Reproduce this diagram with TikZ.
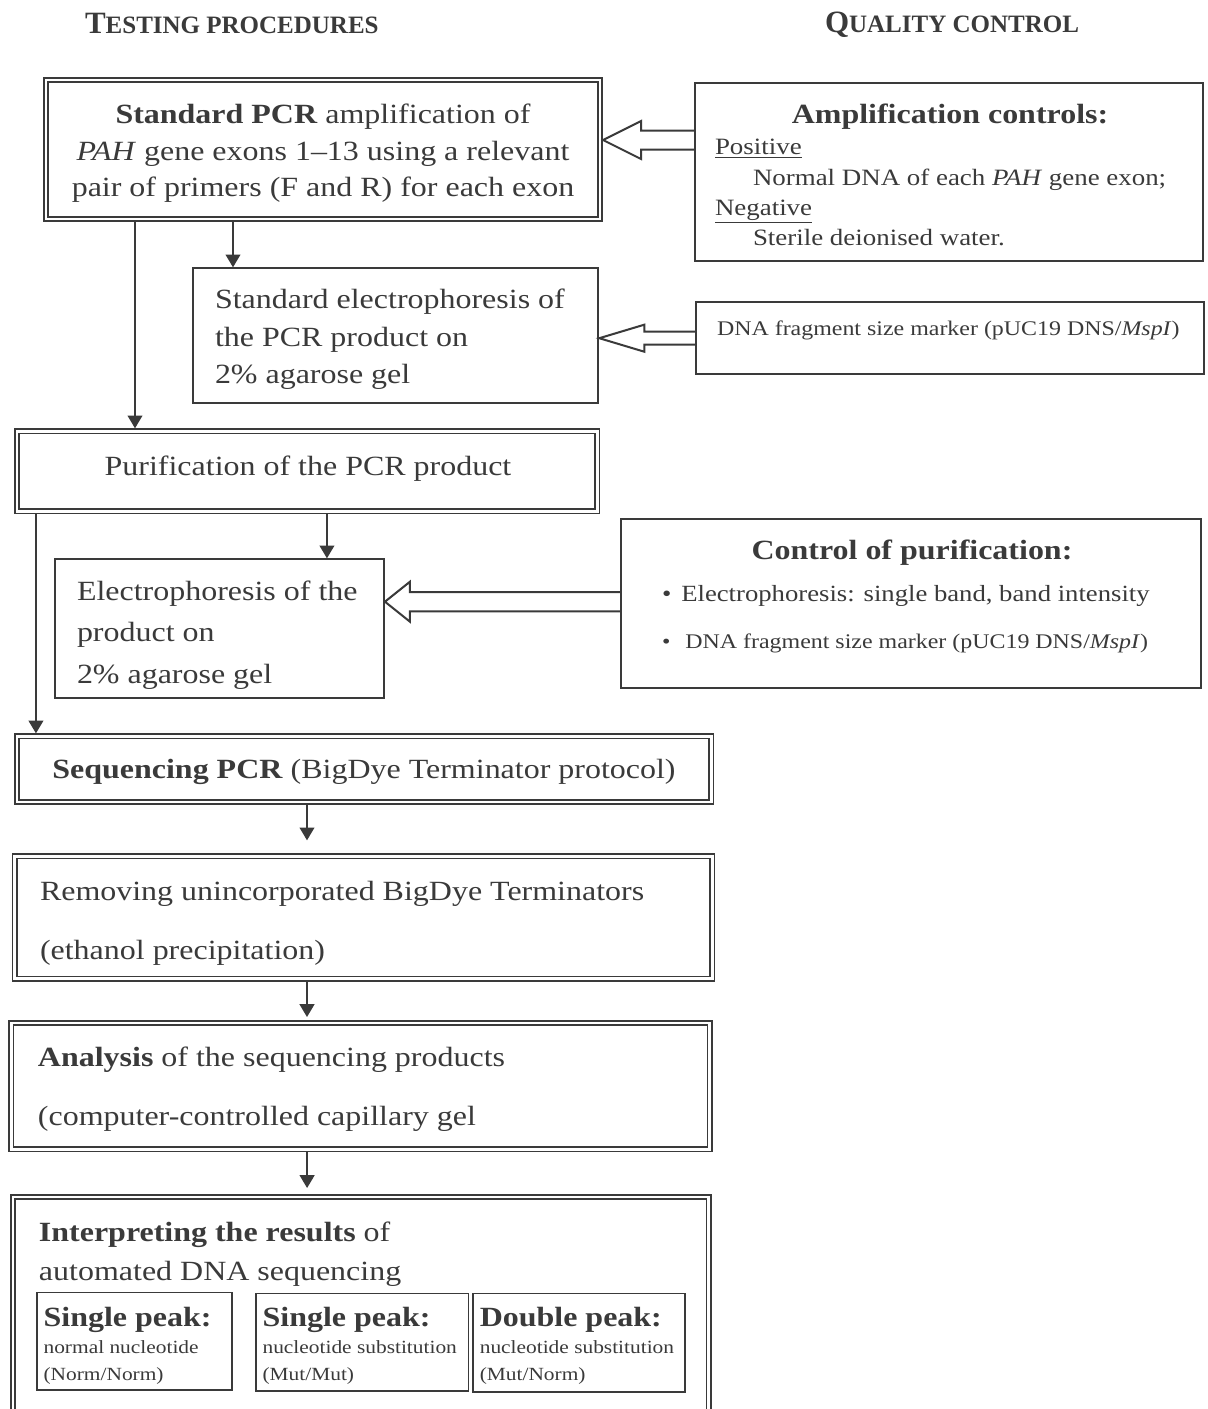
\documentclass[tikz,border=0pt]{standalone}
\usepackage{fontspec}
\setmainfont{Liberation Serif}[FakeStretch=1.15]
\newfontfamily\hdfont{Liberation Serif}
\usetikzlibrary{arrows.meta,calc}
\definecolor{ink}{RGB}{58,58,58}
\newcommand\setfs[1]{\fontsize{#1}{#1}\selectfont}
\newcommand\blockarrow[5]{%
  \draw[hollow] let \p1=(#1), \p2=(#2) in
    ({\x1},{\y1+#3}) -- ({\x2+#5},{\y1+#3}) -- ({\x2+#5},{\y2+#4}) -- (\x2,\y2)
    -- ({\x2+#5},{\y2-#4}) -- ({\x2+#5},{\y1-#3}) -- ({\x1},{\y1-#3});}
\begin{document}
\begin{tikzpicture}[x=0.5pt,y=-0.5pt,
  dbox/.style={draw=ink, line width=0.85pt, double=white, double distance=1.3pt, outer sep=1.5pt, inner sep=0pt, rectangle},
  sbox/.style={draw=ink, line width=1pt, inner sep=0pt, rectangle},
  subbox/.style={draw=ink, line width=0.8pt, inner sep=0pt, rectangle},
  txt/.style={inner sep=0pt, outer sep=0pt, text=ink, font={\setfs{13.9}}},
  btxt/.style={txt, font={\setfs{13.9}\bfseries}},
  lst/.style={txt, font={\setfs{11.7}}},
  sml/.style={txt, font={\setfs{9.3}}},
  arr/.style={draw=ink, line width=0.8pt, -{Triangle[width=7.4pt,length=6.4pt]}},
  hollow/.style={draw=ink, line width=1pt, line join=miter}]
\useasboundingbox (0,0) rectangle (1207,1409);
\fill[white] (0,0) rectangle (1207,1409);
\clip (0,0) rectangle (1207,1409);

% headers
\node[txt, anchor=base west] (hd1) at (85,33) {\hdfont\bfseries\setfs{15.5}T\setfs{12.5}ESTING PROCEDURES};
\node[txt, anchor=base west] (hd2) at (825,32) {\hdfont\bfseries\setfs{15.5}Q\setfs{12.5}UALITY CONTROL};

% boxes
\node[dbox, minimum width=277pt, minimum height=69.5pt] (box1) at (323,149.5) {};
\node[sbox, minimum width=202.75pt, minimum height=67.5pt] (elec1) at (395.5,335.8) {};
\node[sbox, minimum width=254pt, minimum height=88.7pt] (ampc) at (949,172) {};
\node[sbox, minimum width=254pt, minimum height=35.85pt] (dnam) at (950,338.2) {};
\node[dbox, minimum width=290.25pt, minimum height=40pt] (purif) at (307.2,471.3) {};
\node[sbox, minimum width=164.25pt, minimum height=69.2pt] (elec2) at (219.7,628.5) {};
\node[sbox, minimum width=290pt, minimum height=84.2pt] (cpur) at (911,603.5) {};
\node[dbox, minimum width=347.2pt, minimum height=32.85pt] (seq) at (364.2,769.2) {};
\node[dbox, minimum width=348.9pt, minimum height=61.2pt] (remv) at (363.4,917.5) {};
\node[dbox, minimum width=349.1pt, minimum height=63.2pt] (anal) at (360.5,1086.2) {};
\node[dbox, minimum width=347.8pt, minimum height=116.5pt] (interp) at (360.9,1313.5) {};
\node[subbox, minimum width=97.6pt, minimum height=48.85pt] (sub1) at (134.3,1341.2) {};
\node[subbox, minimum width=106.3pt, minimum height=48.7pt] (sub2) at (362,1342) {};
\node[subbox, minimum width=106pt, minimum height=49.2pt] (sub3) at (579,1342.5) {};

% texts
\node[txt, anchor=base] (t1a) at (323,123.3) {\textbf{Standard PCR} amplification of};
\node[txt, anchor=base] (t1b) at (323,160) {\textit{PAH} gene exons 1–13 using a relevant};
\node[txt, anchor=base] (t1c) at (323,196.7) {pair of primers (F and R) for each exon};

\node[txt, anchor=base west] (t2a) at (215,308.3) {Standard electrophoresis of};
\node[txt, anchor=base west] (t2b) at (215,346) {the PCR product on};
\node[txt, anchor=base west] (t2c) at (215,383.3) {2\% agarose gel};

\node[btxt, anchor=base] (t3a) at (950,123.3) {Amplification controls:};
\node[lst, anchor=base west] (t3b) at (715,154) {\underline{Positive}};
\node[lst, anchor=base west] (t3c) at (753,185) {Normal DNA of each \textit{PAH} gene exon;};
\node[lst, anchor=base west] (t3d) at (715,215) {\underline{Negative}};
\node[lst, anchor=base west] (t3e) at (753,245) {Sterile deionised water.};

\node[txt, font={\setfs{10.4}}, anchor=base west] (t4) at (717,335) {DNA fragment size marker (pUC19 DNS/\textit{MspI})};

\node[txt, anchor=base] (t5) at (308,475) {Purification of the PCR product};

\node[txt, anchor=base west] (t6a) at (77,600) {Electrophoresis of the};
\node[txt, anchor=base west] (t6b) at (77,641.7) {product on};
\node[txt, anchor=base west] (t6c) at (77,683.3) {2\% agarose gel};

\node[btxt, anchor=base] (t7a) at (912,559.3) {Control of purification:};
\node[txt, font={\setfs{11.6}}, anchor=base west] (t7b) at (662,601.7) {\textbullet\hspace{5pt}Electrophoresis: single band, band intensity};
\node[txt, font={\setfs{10.4}}, anchor=base west] (t7c) at (662,648.3) {\textbullet\hspace{7.5pt}DNA fragment size marker (pUC19 DNS/\textit{MspI})};

\node[txt, anchor=base] (t8) at (364,778.3) {\textbf{Sequencing PCR} (BigDye Terminator protocol)};

\node[txt, anchor=base west] (t9a) at (40,900) {Removing unincorporated BigDye Terminators};
\node[txt, anchor=base west] (t9b) at (40,959.3) {(ethanol precipitation)};

\node[txt, anchor=base west] (t10a) at (38,1066.7) {\textbf{Analysis} of the sequencing products};
\node[txt, anchor=base west] (t10b) at (38,1125) {(computer-controlled capillary gel};

\node[txt, anchor=base west] (t11a) at (39,1241.7) {\textbf{Interpreting the results} of};
\node[txt, anchor=base west] (t11b) at (39,1280) {automated DNA sequencing};

\node[btxt, anchor=base west] (t12a) at (43.6,1326.7) {Single peak:};
\node[sml, anchor=base west] (t12b) at (43.6,1353.3) {normal nucleotide};
\node[sml, anchor=base west] (t12c) at (43.6,1380) {(Norm/Norm)};
\node[btxt, anchor=base west] (t13a) at (262.6,1326.7) {Single peak:};
\node[sml, anchor=base west] (t13b) at (262.6,1353.3) {nucleotide substitution};
\node[sml, anchor=base west] (t13c) at (262.6,1380) {(Mut/Mut)};
\node[btxt, anchor=base west] (t14a) at (479.8,1326.7) {Double peak:};
\node[sml, anchor=base west] (t14b) at (479.8,1353.3) {nucleotide substitution};
\node[sml, anchor=base west] (t14c) at (479.8,1380) {(Mut/Norm)};

% thin arrows
\coordinate (a1) at ($(box1.south west)+(92,0)$);
\draw[arr] (a1) -- (a1 |- purif.north);
\coordinate (b1) at ($(box1.south west)+(190,0)$);
\draw[arr] (b1) -- (b1 |- elec1.north);
\coordinate (c1) at ($(purif.south west)+(313,0)$);
\draw[arr] (c1) -- (c1 |- elec2.north);
\coordinate (d1) at ($(purif.south west)+(22,0)$);
\draw[arr] (d1) -- (d1 |- seq.north);
\coordinate (e1) at ($(seq.south west)+(293,0)$);
\draw[arr] (e1) -- ($(e1 |- remv.north)+(0,-13)$);
\coordinate (f1) at ($(remv.south west)+(295.5,0)$);
\draw[arr] (f1) -- ($(f1 |- anal.north)+(0,-3)$);
\coordinate (g1) at ($(anal.south west)+(298.7,0)$);
\draw[arr] (g1) -- ($(g1 |- interp.north)+(0,-6)$);

% hollow block arrows
\coordinate (h1s) at ($(ampc.west)+(0,-32)$);
\coordinate (h1t) at (box1.east |- h1s);
\blockarrow{h1s}{h1t}{4.75pt}{9.5pt}{19pt}
\coordinate (h2s) at (dnam.west);
\coordinate (h2t) at (elec1.east |- h2s);
\blockarrow{h2s}{h2t}{3.25pt}{6.75pt}{22.5pt}
\coordinate (h3s) at ($(cpur.west)+(0,-1.8)$);
\coordinate (h3t) at (elec2.east |- h3s);
\blockarrow{h3s}{h3t}{4.85pt}{10pt}{12.5pt}
\end{tikzpicture}
\end{document}
